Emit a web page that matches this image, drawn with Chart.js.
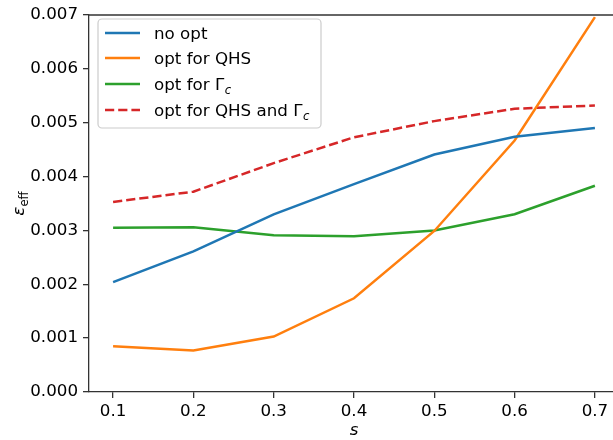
<!DOCTYPE html>
<html>
<head>
<meta charset="utf-8">
<script src="https://cdn.jsdelivr.net/npm/chart.js@4.4.1/dist/chart.umd.min.js"></script>
<style>
  html, body { margin: 0; padding: 0; background: #fff; overflow: hidden; }
  #clip { width: 613px; height: 440px; overflow: hidden; position: relative; }
  #wrap { width: 625px; height: 440px; position: absolute; left: 0; top: 0; }
</style>
</head>
<body>
<div id="clip"><div id="wrap"><canvas id="effChart"></canvas></div></div>
<script>
// data
const sValues = [0.1, 0.2, 0.3, 0.4, 0.5, 0.6, 0.7];
const noOpt = [0.00204, 0.00261, 0.00330, 0.00386, 0.00441, 0.00474, 0.00490];
const optQHS = [0.00085, 0.00077, 0.00103, 0.00174, 0.00299, 0.00467, 0.00696];
const optGamma = [0.00305, 0.00306, 0.00291, 0.00289, 0.00300, 0.00330, 0.00383];
const optBoth = [0.00353, 0.00372, 0.00425, 0.00473, 0.00503, 0.00526, 0.00532];

const xTicks = [0.1, 0.2, 0.3, 0.4, 0.5, 0.6, 0.7];
const yTicks = [0, 0.001, 0.002, 0.003, 0.004, 0.005, 0.006, 0.007];

const FONT = "'DejaVu Sans', sans-serif";
const FS = 16.7;
const SPINE = '#333';

function toPoints(ys) {
    return sValues.map((x, i) => ({ x: x, y: ys[i] }));
}

// legend entries; sub = italic subscript after the label
const legendItems = [
    { text: 'no opt', sub: null, color: '#1f77b4', dash: [] },
    { text: 'opt for QHS', sub: null, color: '#ff7f0e', dash: [] },
    { text: 'opt for \u0393', sub: 'c', color: '#2ca02c', dash: [] },
    { text: 'opt for QHS and \u0393', sub: 'c', color: '#d62728', dash: [9.2, 4] },
];

// draws the top spine, axis titles and the legend
const decorations = {
    id: 'decorations',
    afterDraw(chart) {
        const ctx = chart.ctx;
        const a = chart.chartArea;
        ctx.save();

        // top spine (right one falls outside the cropped window)
        ctx.strokeStyle = SPINE;
        ctx.lineWidth = 1.3;
        ctx.beginPath();
        ctx.moveTo(a.left, a.top);
        ctx.lineTo(a.right, a.top);
        ctx.stroke();

        ctx.fillStyle = '#000';

        // x title
        ctx.font = 'italic ' + FS + 'px ' + FONT;
        ctx.textAlign = 'center';
        ctx.textBaseline = 'middle';
        ctx.fillText('s', (a.left + a.right) / 2, 431);

        // y title, rotated
        ctx.save();
        ctx.translate(19, (a.top + a.bottom) / 2);
        ctx.rotate(-Math.PI / 2);
        ctx.font = 'italic ' + FS + 'px ' + FONT;
        const wEps = ctx.measureText('\u03b5').width;
        ctx.font = (FS * 0.7) + 'px ' + FONT;
        const wSub = ctx.measureText('eff').width;
        const x0 = -(wEps + wSub) / 2;
        ctx.textAlign = 'left';
        ctx.textBaseline = 'alphabetic';
        ctx.font = 'italic ' + FS + 'px ' + FONT;
        ctx.fillText('\u03b5', x0, 5);
        ctx.font = (FS * 0.7) + 'px ' + FONT;
        ctx.fillText('eff', x0 + wEps, 9);
        ctx.restore();

        // legend box
        const bx = 98, by = 19, bw = 223, bh = 109, r = 4;
        ctx.beginPath();
        ctx.moveTo(bx + r, by);
        ctx.arcTo(bx + bw, by, bx + bw, by + bh, r);
        ctx.arcTo(bx + bw, by + bh, bx, by + bh, r);
        ctx.arcTo(bx, by + bh, bx, by, r);
        ctx.arcTo(bx, by, bx + bw, by, r);
        ctx.closePath();
        ctx.fillStyle = 'rgba(255,255,255,0.8)';
        ctx.fill();
        ctx.strokeStyle = '#cccccc';
        ctx.lineWidth = 1.2;
        ctx.stroke();

        const rows = [33, 58, 84, 110];
        legendItems.forEach((item, i) => {
            const y = rows[i];
            ctx.strokeStyle = item.color;
            ctx.lineWidth = 2.5;
            ctx.setLineDash(item.dash);
            ctx.beginPath();
            ctx.moveTo(105, y);
            ctx.lineTo(140, y);
            ctx.stroke();
            ctx.setLineDash([]);

            ctx.fillStyle = '#000';
            ctx.textAlign = 'left';
            ctx.textBaseline = 'alphabetic';
            ctx.font = FS + 'px ' + FONT;
            ctx.fillText(item.text, 154, y + 6);
            if (item.sub) {
                const w = ctx.measureText(item.text).width;
                ctx.font = 'italic ' + (FS * 0.7) + 'px ' + FONT;
                ctx.fillText(item.sub, 154 + w + 0.5, y + 9.5);
            }
        });

        ctx.restore();
    }
};

Chart.defaults.color = '#000';
Chart.defaults.font.family = FONT;
Chart.defaults.font.size = FS;

const ctx = document.getElementById('effChart').getContext('2d');
const effChart = new Chart(ctx, {
    type: 'line',
    data: {
        datasets: [
            { label: 'no opt', data: toPoints(noOpt), borderColor: '#1f77b4' },
            { label: 'opt for QHS', data: toPoints(optQHS), borderColor: '#ff7f0e' },
            { label: 'opt for Γc', data: toPoints(optGamma), borderColor: '#2ca02c' },
            { label: 'opt for QHS and Γc', data: toPoints(optBoth), borderColor: '#d62728', borderDash: [9.2, 4] },
        ],
    },
    options: {
        responsive: true,
        maintainAspectRatio: false,
        animation: false,
        layout: { padding: { top: 10, right: 6, left: 0, bottom: 0 } },
        elements: {
            point: { radius: 0 },
            line: { borderWidth: 2.5, tension: 0, fill: false, borderCapStyle: 'butt' },
        },
        plugins: {
            legend: { display: false },
            tooltip: { enabled: false },
        },
        scales: {
            x: {
                type: 'linear',
                min: 0.07,
                max: 0.73,
                afterBuildTicks: scale => { scale.ticks = xTicks.map(v => ({ value: v })); },
                afterFit: scale => { scale.height = 48; },
                ticks: {
                    padding: 4,
                    maxRotation: 0,
                    autoSkip: false,
                    callback: v => v.toFixed(1),
                },
                grid: { drawOnChartArea: false, tickLength: 6, color: SPINE, lineWidth: 1.3 },
                border: { display: true, color: SPINE, width: 1.3 },
            },
            y: {
                type: 'linear',
                min: 0,
                max: 0.007,
                afterBuildTicks: scale => { scale.ticks = yTicks.map(v => ({ value: v })); },
                afterFit: scale => { scale.width = 89; },
                ticks: {
                    padding: 5,
                    autoSkip: false,
                    callback: v => v.toFixed(3),
                },
                grid: { drawOnChartArea: false, tickLength: 6, color: SPINE, lineWidth: 1.3 },
                border: { display: true, color: SPINE, width: 1.3 },
            },
        },
    },
    plugins: [decorations],
});
</script>
</body>
</html>
